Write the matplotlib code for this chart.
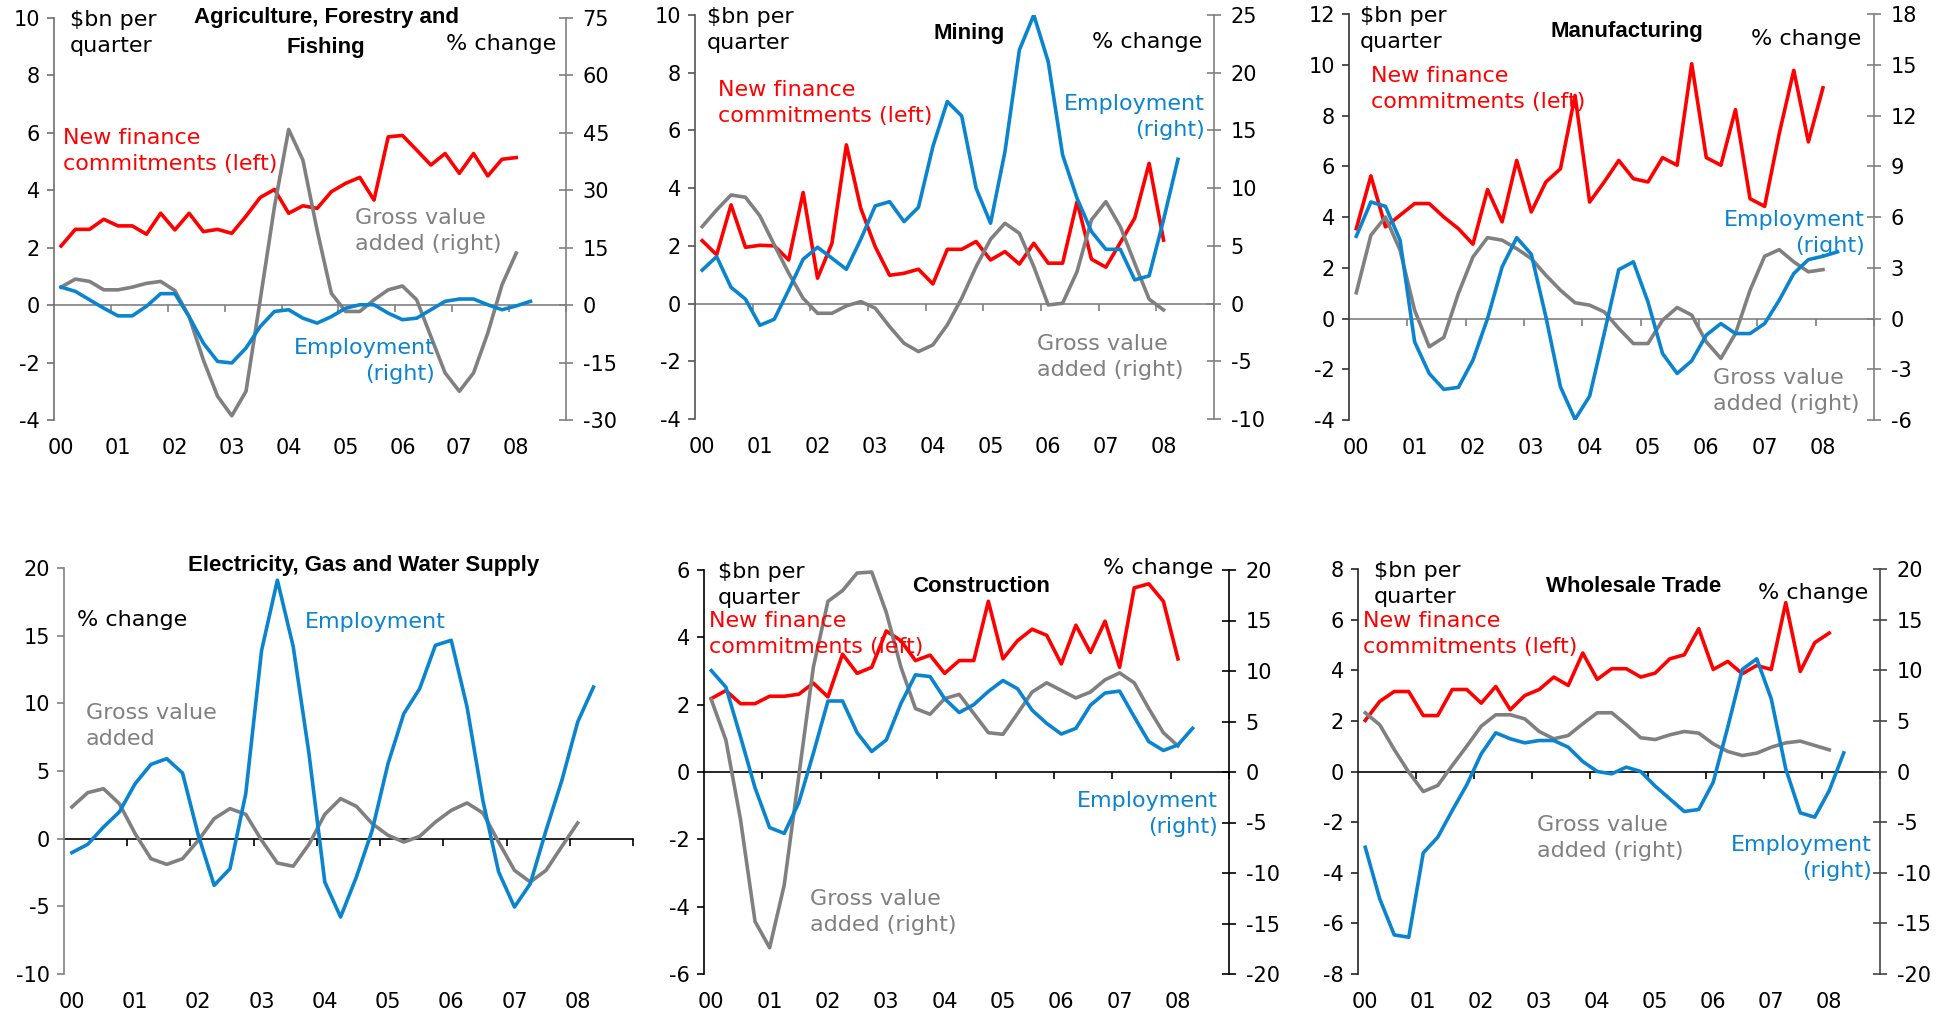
import numpy as np
import matplotlib.pyplot as plt

plt.rcParams['font.family'] = ['DejaVu Sans']
plt.rcParams['axes.unicode_minus'] = False

W, H = 1952, 1018
RED = '#FF0000'
BLUE = '#0A84CE'
GREY = '#808080'

years = ['00', '01', '02', '03', '04', '05', '06', '07', '08']

# --- DATA: quarterly from 2000 Q1 ---
# Agriculture, Forestry and Fishing
agr_fin = [2.06, 2.64, 2.64, 2.99, 2.76, 2.76, 2.47, 3.2, 2.62, 3.2, 2.56, 2.64, 2.5, 3.1, 3.75, 4.03,
           3.2, 3.46, 3.37, 3.95, 4.24, 4.45, 3.66, 5.86, 5.91, 5.4, 4.88, 5.28, 4.59, 5.28, 4.5, 5.08, 5.14]
agr_gva = [4.7, 6.8, 6.2, 4.0, 4.0, 4.7, 5.7, 6.2, 3.8, -3.0, -14.3, -23.8, -28.9, -22.5, 1.4, 25.7,
           45.9, 37.9, 19.6, 3.1, -1.65, -1.65, 1.4, 4.0, 5.0, 1.4, -8.2, -17.7, -22.5, -17.7, -7.3, 5.3, 13.6]
agr_emp = [4.7, 3.6, 1.4, -0.8, -2.8, -2.8, -0.3, 3.0, 3.0, -3.0, -9.9, -14.7, -15.1, -11.2, -5.6, -1.65,
           -1.2, -3.4, -4.7, -3.0, -0.8, 0.1, 0.1, -2.1, -3.8, -3.4, -1.2, 1.0, 1.6, 1.6, 0.1, -1.2, -0.2, 1.0]

# Mining
min_fin = [2.18, 1.69, 3.42, 1.95, 2.02, 2.0, 1.51, 3.85, 0.88, 2.09, 5.5, 3.3, 1.97, 0.98, 1.05, 1.19,
           0.68, 1.88, 1.88, 2.15, 1.51, 1.8, 1.37, 2.09, 1.4, 1.4, 3.53, 1.54, 1.26, 2.11, 2.96, 4.86, 2.2]
min_emp = [2.9, 4.07, 1.41, 0.38, -1.88, -1.36, 1.18, 3.84, 4.88, 3.93, 2.97, 5.57, 8.46, 8.83, 7.1, 8.34,
           13.6, 17.5, 16.25, 9.99, 6.96, 13.16, 21.97, 25.0, 20.96, 12.87, 9.12, 6.24, 4.7, 4.7, 2.05, 2.4, 7.25, 12.5]
min_gva = [6.67, 8.11, 9.41, 9.21, 7.6, 5.08, 2.63, 0.46, -0.84, -0.84, -0.2, 0.17, -0.4, -2.0, -3.44, -4.16,
           -3.58, -1.85, 0.46, 3.2, 5.57, 6.96, 6.09, 3.2, -0.12, 0.03, 2.77, 7.25, 8.83, 6.67, 3.49, 0.38, -0.55]

# Manufacturing
man_fin = [3.54, 5.62, 3.61, 4.07, 4.53, 4.53, 4.0, 3.54, 2.93, 5.08, 3.81, 6.23, 4.2, 5.38, 5.9, 8.79,
           4.59, 5.38, 6.23, 5.51, 5.38, 6.34, 6.04, 10.04, 6.34, 6.04, 8.23, 4.72, 4.42, 7.28, 9.78, 6.96, 9.09]
man_emp = [4.86, 6.89, 6.63, 4.63, -1.38, -3.25, -4.19, -4.07, -2.46, 0.0, 3.05, 4.78, 3.8, 0.1, -4.04, -5.96,
           -4.59, -0.89, 2.89, 3.35, 0.98, -2.07, -3.25, -2.5, -0.98, -0.3, -0.89, -0.89, -0.3, 1.08, 2.66, 3.48, 3.68, 3.94]
man_gva = [1.52, 4.92, 6.0, 4.04, 0.49, -1.67, -1.12, 1.48, 3.64, 4.78, 4.63, 4.13, 3.54, 2.56, 1.67, 0.93,
           0.79, 0.39, -0.59, -1.48, -1.48, -0.1, 0.65, 0.2, -1.38, -2.36, -0.89, 1.67, 3.68, 4.07, 3.35, 2.76, 2.89]

# Electricity, Gas and Water Supply
ele_emp = [-1.03, -0.42, 0.86, 1.97, 4.06, 5.49, 5.91, 4.85, 0.25, -3.45, -2.22, 3.33, 13.9, 19.1, 14.2, 6.28,
           -3.2, -5.79, -2.83, 0.62, 5.54, 9.24, 11.08, 14.29, 14.66, 9.73, 2.83, -2.46, -5.05, -3.33, 0.62, 4.31, 8.62, 11.2]
ele_gva = [2.34, 3.4, 3.69, 2.59, 0.37, -1.48, -1.9, -1.48, -0.12, 1.48, 2.22, 1.8, -0.12, -1.8, -2.04, -0.42,
           1.8, 2.96, 2.39, 1.11, 0.25, -0.25, 0.17, 1.23, 2.09, 2.64, 1.9, -0.25, -2.34, -3.2, -2.34, -0.57, 1.16]

# Construction
con_fin = [2.18, 2.42, 2.03, 2.03, 2.25, 2.25, 2.31, 2.64, 2.23, 3.5, 2.93, 3.11, 4.19, 3.9, 3.31, 3.47,
           2.93, 3.31, 3.31, 5.07, 3.36, 3.9, 4.24, 4.06, 3.21, 4.36, 3.55, 4.48, 3.11, 5.47, 5.59, 5.07, 3.36]
con_gva = [7.16, 3.17, -4.68, -14.8, -17.4, -11.2, -0.4, 10.4, 16.9, 17.96, 19.7, 19.8, 15.8, 10.4, 6.28, 5.72,
           7.26, 7.69, 5.79, 3.89, 3.73, 5.79, 7.92, 8.83, 8.08, 7.33, 7.92, 9.13, 9.81, 8.83, 6.28, 3.89, 2.58]
con_emp = [10.04, 8.41, 3.5, -1.57, -5.5, -6.08, -3.04, 1.86, 7.03, 7.03, 3.89, 2.03, 3.17, 6.77, 9.62, 9.45,
           7.26, 5.89, 6.67, 7.98, 9.06, 8.24, 6.12, 4.81, 3.76, 4.32, 6.61, 7.82, 8.01, 5.46, 3.01, 2.13, 2.68, 4.32]

# Wholesale Trade
whl_fin = [2.02, 2.77, 3.16, 3.16, 2.21, 2.21, 3.24, 3.24, 2.7, 3.36, 2.44, 3.0, 3.24, 3.73, 3.4, 4.68,
           3.64, 4.06, 4.06, 3.73, 3.89, 4.45, 4.61, 5.64, 4.03, 4.35, 3.86, 4.19, 4.03, 6.67, 3.95, 5.09, 5.47]
whl_gva = [5.8, 4.61, 2.17, -0.07, -1.98, -1.38, 0.59, 2.5, 4.48, 5.6, 5.6, 5.2, 3.95, 3.23, 3.56, 4.71,
           5.8, 5.8, 4.61, 3.33, 3.16, 3.62, 3.95, 3.79, 2.73, 1.98, 1.58, 1.81, 2.4, 2.83, 3.0, 2.57, 2.14]
whl_emp = [-7.48, -12.58, -16.14, -16.37, -8.04, -6.49, -3.85, -1.32, 1.75, 3.82, 3.23, 2.83, 3.06, 3.06, 2.4, 0.99,
           0.0, -0.23, 0.43, 0.0, -1.45, -2.7, -3.95, -3.75, -1.05, 4.38, 10.08, 11.13, 7.18, 0.26, -4.08, -4.51, -1.88, 1.84]


fig = plt.figure(figsize=(W / 100, H / 100), dpi=100)

TICK_FS = 15
TEXT_FS = 16


def px_rect(x0, x1, ytop, ybot):
    return [x0 / W, 1 - ybot / H, (x1 - x0) / W, (ybot - ytop) / H]


def label(x, y, s, color='black', ha='left', **kw):
    fig.text(x / W, 1 - y / H, s, color=color, ha=ha, va='center',
             multialignment=ha, fontsize=TEXT_FS, linespacing=1.32, **kw)


def title(x, y, s):
    fig.text(x / W, 1 - y / H, s, ha='center', va='center', fontsize=16,
             fontweight='bold', family=['Liberation Sans', 'DejaVu Sans'])


def make_panel(rect, ylim, yticks, lcol, zcol):
    ax = fig.add_axes(rect)
    ax.set_xlim(-0.5, 35.5)
    ax.set_ylim(*ylim)
    ax.set_yticks(yticks)
    for s in ['top', 'bottom', 'right']:
        ax.spines[s].set_visible(False)
    ax.spines['left'].set_color(lcol)
    ax.spines['left'].set_linewidth(1.2)
    ax.tick_params(axis='y', direction='out', length=5, width=1.2, color=lcol,
                   labelsize=TICK_FS, pad=5)
    ax.set_xticks(np.arange(0, 33, 4))
    ax.set_xticklabels(years)
    ax.tick_params(axis='x', length=0, labelsize=TICK_FS, pad=13)
    # zero line with year-boundary ticks
    loc = (0 - ylim[0]) / (ylim[1] - ylim[0])
    sec = ax.secondary_xaxis(loc)
    sec.set_alignment('bottom')
    for s in ['top', 'bottom']:
        sec.spines[s].set_color(zcol)
        sec.spines[s].set_linewidth(1.2)
    sec.set_xticks(np.arange(3.5, 36, 4))
    sec.tick_params(axis='x', which='both', direction='out', length=5, width=1.2,
                    color=zcol, bottom=True, top=False, labelbottom=False, labeltop=False)
    return ax


def right_axis(ax, ylim, yticks, rcol):
    ax2 = ax.twinx()
    ax2.set_ylim(*ylim)
    ax2.set_yticks(yticks)
    for s in ['top', 'bottom', 'left']:
        ax2.spines[s].set_visible(False)
    ax2.spines['right'].set_color(rcol)
    ax2.spines['right'].set_linewidth(1.2)
    ax2.tick_params(axis='y', direction='inout', length=10, width=1.2, color=rcol,
                    labelsize=TICK_FS, pad=7)
    return ax2


LW = 2.6

# --- Panel 1: Agriculture ---
ax = make_panel(px_rect(54, 566, 18, 420), (-4, 10), np.arange(-4, 11, 2), '#707070', GREY)
ax.plot(range(len(agr_fin)), agr_fin, color=RED, lw=LW)
ax2 = right_axis(ax, (-30, 75), np.arange(-30, 76, 15), GREY)
ax2.plot(range(len(agr_gva)), agr_gva, color=GREY, lw=LW)
ax2.plot(range(len(agr_emp)), agr_emp, color=BLUE, lw=LW)
label(70, 33, '$bn per\nquarter')
title(326, 18, 'Agriculture, Forestry and')
title(326, 48, 'Fishing')
label(556, 44, '% change', ha='right')
label(63, 151, 'New finance\ncommitments (left)', color=RED)
label(355, 231, 'Gross value\nadded (right)', color=GREY)
label(435, 361, 'Employment\n(right)', color=BLUE, ha='right')

# --- Panel 2: Mining ---
ax = make_panel(px_rect(695, 1214, 15, 419), (-4, 10), np.arange(-4, 11, 2), '#555555', GREY)
ax.plot(range(len(min_fin)), min_fin, color=RED, lw=LW)
ax2 = right_axis(ax, (-10, 25), np.arange(-10, 26, 5), GREY)
ax2.plot(range(len(min_gva)), min_gva, color=GREY, lw=LW)
ax2.plot(range(len(min_emp)), min_emp, color=BLUE, lw=LW)
label(707, 30, '$bn per\nquarter')
title(969, 33, 'Mining')
label(1202, 42, '% change', ha='right')
label(718, 103, 'New finance\ncommitments (left)', color=RED)
label(1205, 117, 'Employment\n(right)', color=BLUE, ha='right')
label(1037, 357, 'Gross value\nadded (right)', color=GREY)

# --- Panel 3: Manufacturing ---
ax = make_panel(px_rect(1349, 1874, 14, 420), (-4, 12), np.arange(-4, 13, 2), '#333333', GREY)
ax.plot(range(len(man_fin)), man_fin, color=RED, lw=LW)
ax2 = right_axis(ax, (-6, 18), np.arange(-6, 19, 3), GREY)
ax2.plot(range(len(man_gva)), man_gva, color=GREY, lw=LW)
ax2.plot(range(len(man_emp)), man_emp, color=BLUE, lw=LW)
label(1360, 29, '$bn per\nquarter')
title(1627, 32, 'Manufacturing')
label(1861, 39, '% change', ha='right')
label(1371, 89, 'New finance\ncommitments (left)', color=RED)
label(1865, 233, 'Employment\n(right)', color=BLUE, ha='right')
label(1713, 391, 'Gross value\nadded (right)', color=GREY)

# --- Panel 4: Electricity, Gas and Water Supply ---
ax = make_panel(px_rect(64, 633, 568, 974), (-10, 20), np.arange(-10, 21, 5), GREY, 'black')
ax.plot(range(len(ele_gva)), ele_gva, color=GREY, lw=LW)
ax.plot(range(len(ele_emp)), ele_emp, color=BLUE, lw=LW)
title(364, 566, 'Electricity, Gas and Water Supply')
label(77, 620, '% change')
label(305, 622, 'Employment', color=BLUE)
label(86, 726, 'Gross value\nadded', color=GREY)

# --- Panel 5: Construction ---
ax = make_panel(px_rect(704, 1229, 570, 974), (-6, 6), np.arange(-6, 7, 2), 'black', 'black')
ax.plot(range(len(con_fin)), con_fin, color=RED, lw=LW)
ax2 = right_axis(ax, (-20, 20), np.arange(-20, 21, 5), 'black')
ax2.plot(range(len(con_gva)), con_gva, color=GREY, lw=LW)
ax2.plot(range(len(con_emp)), con_emp, color=BLUE, lw=LW)
label(718, 585, '$bn per\nquarter')
title(981, 586, 'Construction')
label(1213, 568, '% change', ha='right')
label(709, 634, 'New finance\ncommitments (left)', color=RED)
label(1218, 814, 'Employment\n(right)', color=BLUE, ha='right')
label(810, 912, 'Gross value\nadded (right)', color=GREY)

# --- Panel 6: Wholesale Trade ---
ax = make_panel(px_rect(1358, 1880, 569, 974), (-8, 8), np.arange(-8, 9, 2), '#222222', 'black')
ax.plot(range(len(whl_fin)), whl_fin, color=RED, lw=LW)
ax2 = right_axis(ax, (-20, 20), np.arange(-20, 21, 5), '#444444')
ax2.plot(range(len(whl_gva)), whl_gva, color=GREY, lw=LW)
ax2.plot(range(len(whl_emp)), whl_emp, color=BLUE, lw=LW)
label(1374, 584, '$bn per\nquarter')
title(1634, 586, 'Wholesale Trade')
label(1868, 593, '% change', ha='right')
label(1363, 634, 'New finance\ncommitments (left)', color=RED)
label(1537, 838, 'Gross value\nadded (right)', color=GREY)
label(1872, 858, 'Employment\n(right)', color=BLUE, ha='right')

fig.savefig('out.png', dpi=100)
